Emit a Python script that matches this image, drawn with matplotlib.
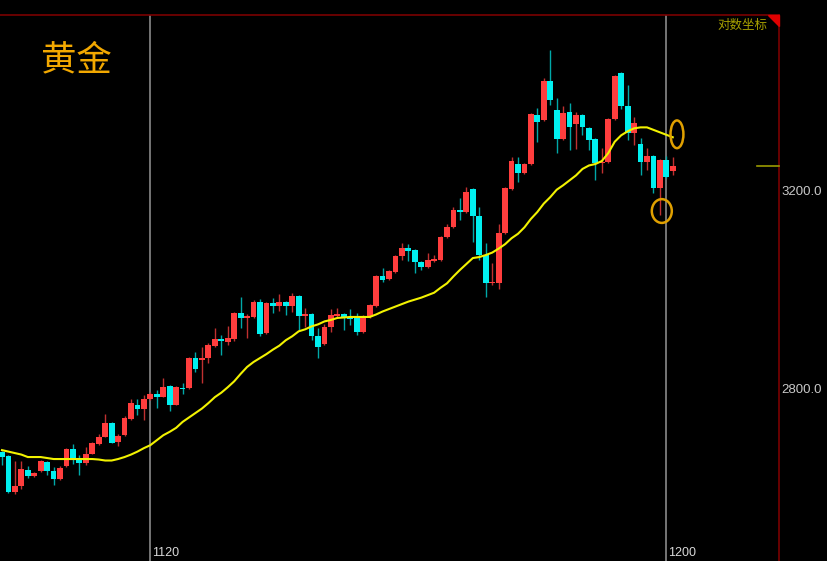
import numpy as np
import matplotlib
matplotlib.use("Agg")
import matplotlib.pyplot as plt
from matplotlib.patches import Ellipse, Polygon
import matplotlib.transforms as mtransforms

plt.rcParams['font.family'] = ['Noto Sans CJK SC', 'DejaVu Sans']

# ---------------- data ----------------
opens = [2671, 2663, 2590, 2602, 2635, 2623, 2633, 2651, 2633, 2616,
         2643, 2677, 2657, 2649, 2667, 2687, 2701, 2730, 2691, 2705,
         2738, 2766, 2758, 2778, 2788, 2782, 2804, 2766, 2800, 2800,
         2861, 2857, 2861, 2885, 2899, 2893, 2899, 2952, 2942, 2944,
         2974, 2911, 2972, 2966, 2974, 2966, 2986, 2946, 2950, 2905,
         2889, 2923, 2946, 2950, 2942, 2944, 2913, 2944, 2966, 3026,
         3020, 3035, 3067, 3083, 3079, 3055, 3045, 3057, 3059, 3105,
         3125, 3160, 3156, 3202, 3148, 3069, 3012, 3012, 3113, 3202,
         3253, 3235, 3253, 3352, 3342, 3420, 3362, 3303, 3358, 3334,
         3352, 3325, 3303, 3255, 3257, 3344, 3437, 3370, 3315, 3293,
         3257, 3269, 3204, 3261, 3239]
highs = [2673, 2665, 2653, 2653, 2643, 2631, 2655, 2653, 2641, 2643,
         2679, 2687, 2665, 2681, 2691, 2707, 2748, 2732, 2707, 2744,
         2778, 2778, 2786, 2792, 2796, 2820, 2806, 2804, 2810, 2863,
         2873, 2883, 2891, 2921, 2907, 2925, 2954, 2984, 2950, 2978,
         2980, 2974, 2982, 2990, 2976, 2992, 2988, 2962, 2952, 2921,
         2929, 2960, 2962, 2952, 2960, 2952, 2948, 2970, 3028, 3043,
         3039, 3069, 3093, 3091, 3081, 3057, 3073, 3069, 3107, 3131,
         3166, 3184, 3206, 3204, 3166, 3093, 3053, 3131, 3206, 3267,
         3267, 3255, 3356, 3366, 3426, 3483, 3386, 3370, 3376, 3358,
         3354, 3327, 3305, 3285, 3346, 3433, 3439, 3412, 3348, 3305,
         3285, 3271, 3263, 3269, 3267]
lows = [2645, 2588, 2586, 2596, 2618, 2621, 2631, 2625, 2604, 2614,
        2641, 2647, 2625, 2645, 2667, 2685, 2701, 2689, 2683, 2703,
        2736, 2746, 2736, 2776, 2760, 2782, 2754, 2766, 2788, 2798,
        2833, 2810, 2851, 2883, 2867, 2887, 2895, 2921, 2901, 2942,
        2905, 2909, 2952, 2956, 2948, 2954, 2917, 2923, 2897, 2861,
        2887, 2913, 2942, 2917, 2927, 2907, 2911, 2942, 2964, 3014,
        3018, 3032, 3059, 3057, 3032, 3039, 3043, 3055, 3057, 3103,
        3123, 3140, 3154, 3095, 3059, 2984, 3008, 3000, 3111, 3200,
        3216, 3232, 3251, 3297, 3340, 3372, 3275, 3301, 3281, 3283,
        3311, 3281, 3220, 3235, 3255, 3342, 3364, 3301, 3291, 3230,
        3241, 3194, 3150, 3224, 3230]
closes = [2661, 2590, 2602, 2637, 2623, 2629, 2653, 2633, 2616, 2639,
          2677, 2655, 2649, 2667, 2689, 2701, 2730, 2689, 2703, 2740,
          2770, 2758, 2778, 2788, 2782, 2802, 2766, 2802, 2798, 2861,
          2839, 2861, 2887, 2899, 2895, 2901, 2952, 2942, 2946, 2974,
          2909, 2972, 2966, 2974, 2966, 2986, 2946, 2950, 2905, 2883,
          2923, 2948, 2950, 2942, 2940, 2913, 2946, 2968, 3026, 3018,
          3037, 3067, 3083, 3077, 3055, 3045, 3059, 3061, 3105, 3125,
          3160, 3156, 3196, 3148, 3069, 3012, 3014, 3113, 3204, 3259,
          3235, 3253, 3354, 3338, 3420, 3382, 3303, 3356, 3327, 3352,
          3327, 3301, 3255, 3257, 3344, 3431, 3370, 3315, 3336, 3257,
          3269, 3204, 3261, 3226, 3249]
ma_line = [2675, 2672, 2669, 2666, 2661, 2661, 2661, 2659, 2657, 2657,
           2657, 2657, 2657, 2657, 2657, 2656, 2654, 2654, 2657, 2661,
           2666, 2672, 2679, 2685, 2695, 2705, 2712, 2720, 2732, 2741,
           2750, 2759, 2770, 2782, 2791, 2802, 2814, 2829, 2843, 2853,
           2861, 2869, 2878, 2886, 2897, 2905, 2915, 2919, 2925, 2929,
           2935, 2938, 2942, 2943, 2944, 2944, 2944, 2944, 2949, 2955,
           2960, 2965, 2970, 2975, 2979, 2983, 2988, 2993, 3003, 3012,
           3026, 3039, 3051, 3063, 3065, 3069, 3074, 3082, 3091, 3103,
           3112, 3125, 3142, 3156, 3173, 3186, 3201, 3210, 3220, 3230,
           3243, 3250, 3253, 3259, 3275, 3298, 3311, 3319, 3325, 3327,
           3327, 3322, 3317, 3312, 3307]
tick_index = [23, 103]
tick_labels = ['1120', '1200']
price_ticks = [2800, 3200]
price_tick_labels = ['2800.0', '3200.0']
title = '黄金'
scale_label = '对数坐标'

# ---------------- drawing ----------------
o = np.array(opens, float)
h = np.array(highs, float)
l = np.array(lows, float)
c = np.array(closes, float)
x = np.arange(len(o))
up = c >= o

RED = '#ff3d3d'
CYAN = '#00f0f0'
RED_W = '#c03030'
CYAN_W = '#00a8a8'

fig = plt.figure(figsize=(8.28, 5.61), dpi=100, facecolor='black')
ax = fig.add_axes([0, 0, 779 / 828, 546 / 561])
ax.set_facecolor('black')

# wicks
ax.vlines(x[up], l[up], h[up], colors=RED_W, linewidth=1.0, zorder=2)
ax.vlines(x[~up], l[~up], h[~up], colors=CYAN_W, linewidth=1.0, zorder=2)
# bodies
body_h = np.maximum(np.abs(c - o), 2.0)
body_b = np.minimum(o, c)
ax.bar(x[up], body_h[up], bottom=body_b[up], width=0.9, color=RED,
       linewidth=0, zorder=3)
ax.bar(x[~up], body_h[~up], bottom=body_b[~up], width=0.9, color=CYAN,
       linewidth=0, zorder=3)

# moving average
ax.plot(x, ma_line, color='#f2f200', linewidth=1.5, zorder=4)

# vertical date lines
for t in tick_index:
    ax.axvline(t, color='#767676', linewidth=1.4, zorder=1)

ax.set_xlim(-0.31, 120.47)
ax.set_ylim(2451, 3554)

# date labels at bottom
for t, lab in zip(tick_index, tick_labels):
    tr = mtransforms.offset_copy(ax.get_xaxis_transform(), fig=fig, x=2, y=0, units='dots')
    ax.text(t, 0.0147, lab, transform=tr, color='#d8d8d8', fontsize=9,
            family='Liberation Sans', ha='left', va='center')

# right price axis
ax.yaxis.tick_right()
ax.set_yticks(price_ticks)
ax.set_yticklabels(price_tick_labels)
ax.tick_params(axis='y', length=0, pad=2, labelsize=9.5, labelcolor='#c8c8c8')
for lab in ax.get_yticklabels():
    lab.set_family('Liberation Sans')
ax.set_xticks([])

for side in ['left', 'bottom']:
    ax.spines[side].set_visible(False)
for side in ['top', 'right']:
    ax.spines[side].set_color('#7a0000')
    ax.spines[side].set_linewidth(1.2)

# last price marker
ax.plot([757 / 779, 1.0], [closes[-1], closes[-1]], color='#9a9a00',
        linewidth=1.2, transform=ax.get_yaxis_transform(), clip_on=False, zorder=5)

# corner triangle
tri = Polygon([(1 - 11 / 779, 1.0), (1.0, 1.0), (1.0, 1 - 11 / 546)],
              closed=True, transform=ax.transAxes, color='#e00000', zorder=6,
              clip_on=False)
ax.add_patch(tri)

# annotation ellipses
ax.add_patch(Ellipse((104.65, 3313), 2.0, 56, fill=False, edgecolor='#e0a000',
                     linewidth=1.8, zorder=6))
ax.add_patch(Ellipse((102.3, 3158), 3.1, 48, fill=False, edgecolor='#e0a000',
                     linewidth=1.8, zorder=6))

# texts
ax.text(41 / 779, (561 - 60) / 546, title, transform=ax.transAxes,
        color='#f2a800', fontsize=25.5, ha='left', va='center')
ax.text(767 / 779, (561 - 25) / 546, scale_label, transform=ax.transAxes,
        color='#a8a000', fontsize=9, ha='right', va='center')

fig.savefig('out.png', dpi=100, facecolor='black')
